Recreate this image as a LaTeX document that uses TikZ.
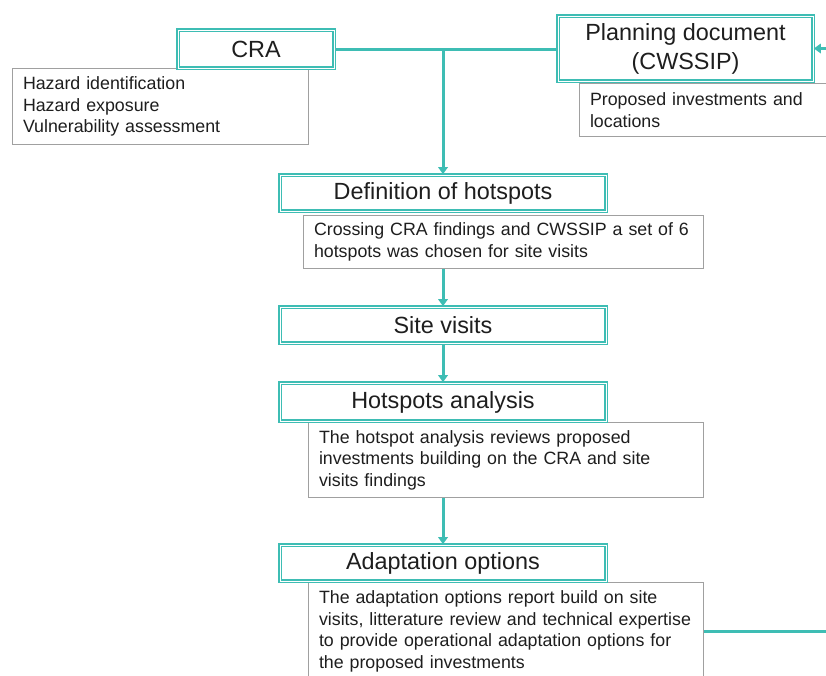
\documentclass[tikz,border=0pt]{standalone}
\usepackage{fontspec}
\setmainfont{Liberation Sans}
\usetikzlibrary{arrows.meta}
\definecolor{tealc}{RGB}{62,189,180}
\definecolor{txtc}{RGB}{30,30,30}
\definecolor{grayc}{RGB}{160,160,160}
\begin{document}
\begin{tikzpicture}[x=1pt,y=-1pt,
 title/.style={draw=tealc, line width=1.7pt, double=white, double distance=0.9pt, fill=white, inner sep=0pt, text=txtc, font=\fontsize{23.4}{29}\selectfont, align=center},
 desc/.style={draw=grayc, line width=1pt, fill=white, anchor=north west, inner xsep=10.5pt, inner ysep=0pt, align=left, text=txtc, font=\fontsize{17.8}{21.6}\selectfont},
 conn/.style={draw=tealc, line width=3pt},
 arr/.style={conn, -{Triangle[width=9.5pt,length=7pt]}}
]
\useasboundingbox[fill=white] (0,0) rectangle (826,675);
% description boxes
\node[desc, text width=275pt, minimum height=76pt] (cdesc) at (12,68) {\mbox{Hazard identification}\\\mbox{Hazard exposure}\\\mbox{Vulnerability assessment}};
\node[desc, text width=239pt, minimum height=53pt] (pdesc) at (579,83) {\mbox{Proposed investments and}\\\mbox{locations}};
\node[desc, text width=379pt, minimum height=53pt] (ddesc) at (303,215) {\mbox{Crossing CRA findings and CWSSIP a set of 6}\\\mbox{hotspots was chosen for site visits}};
\node[desc, text width=374pt, minimum height=75pt] (hdesc) at (308,422) {\mbox{The hotspot analysis reviews proposed}\\\mbox{investments building on the CRA and site}\\\mbox{visits findings}};
\node[desc, text width=374pt, minimum height=98pt] (adesc) at (308,582) {\mbox{The adaptation options report build on site}\\\mbox{visits, litterature review and technical expertise}\\\mbox{to provide operational adaptation options for}\\\mbox{the proposed investments}};
% title boxes
\node[title, minimum width=156pt, minimum height=38pt] (cra) at (256,49) {CRA};
\node[title, minimum width=255pt, minimum height=65pt] (plan) at (685.5,48.5) {Planning document\\(CWSSIP)};
\node[title, minimum width=326pt, minimum height=36pt] (def) at (443,193) {Definition of hotspots};
\node[title, minimum width=326pt, minimum height=36pt] (site) at (443,325) {Site visits};
\node[title, minimum width=326pt, minimum height=38pt] (hot) at (443,402) {Hotspots analysis};
\node[title, minimum width=326pt, minimum height=36pt] (adapt) at (443,563) {Adaptation options};
% connectors
\coordinate (j) at (def.north |- cra.east);
\coordinate (rin) at (826,48.5);
\coordinate (rout) at (826,631);
\draw[conn] (cra.east) -- (cra.east -| plan.west);
\draw[arr] (j) -- (def.north);
\draw[arr] (rin) -- (plan.east);
\draw[arr] (site.north |- ddesc.south) -- (site.north);
\draw[arr] (site.south) -- (hot.north);
\draw[arr] (adapt.north |- hdesc.south) -- (adapt.north);
\draw[conn] (adesc.east) -- (adesc.east -| rout);
\end{tikzpicture}
\end{document}
